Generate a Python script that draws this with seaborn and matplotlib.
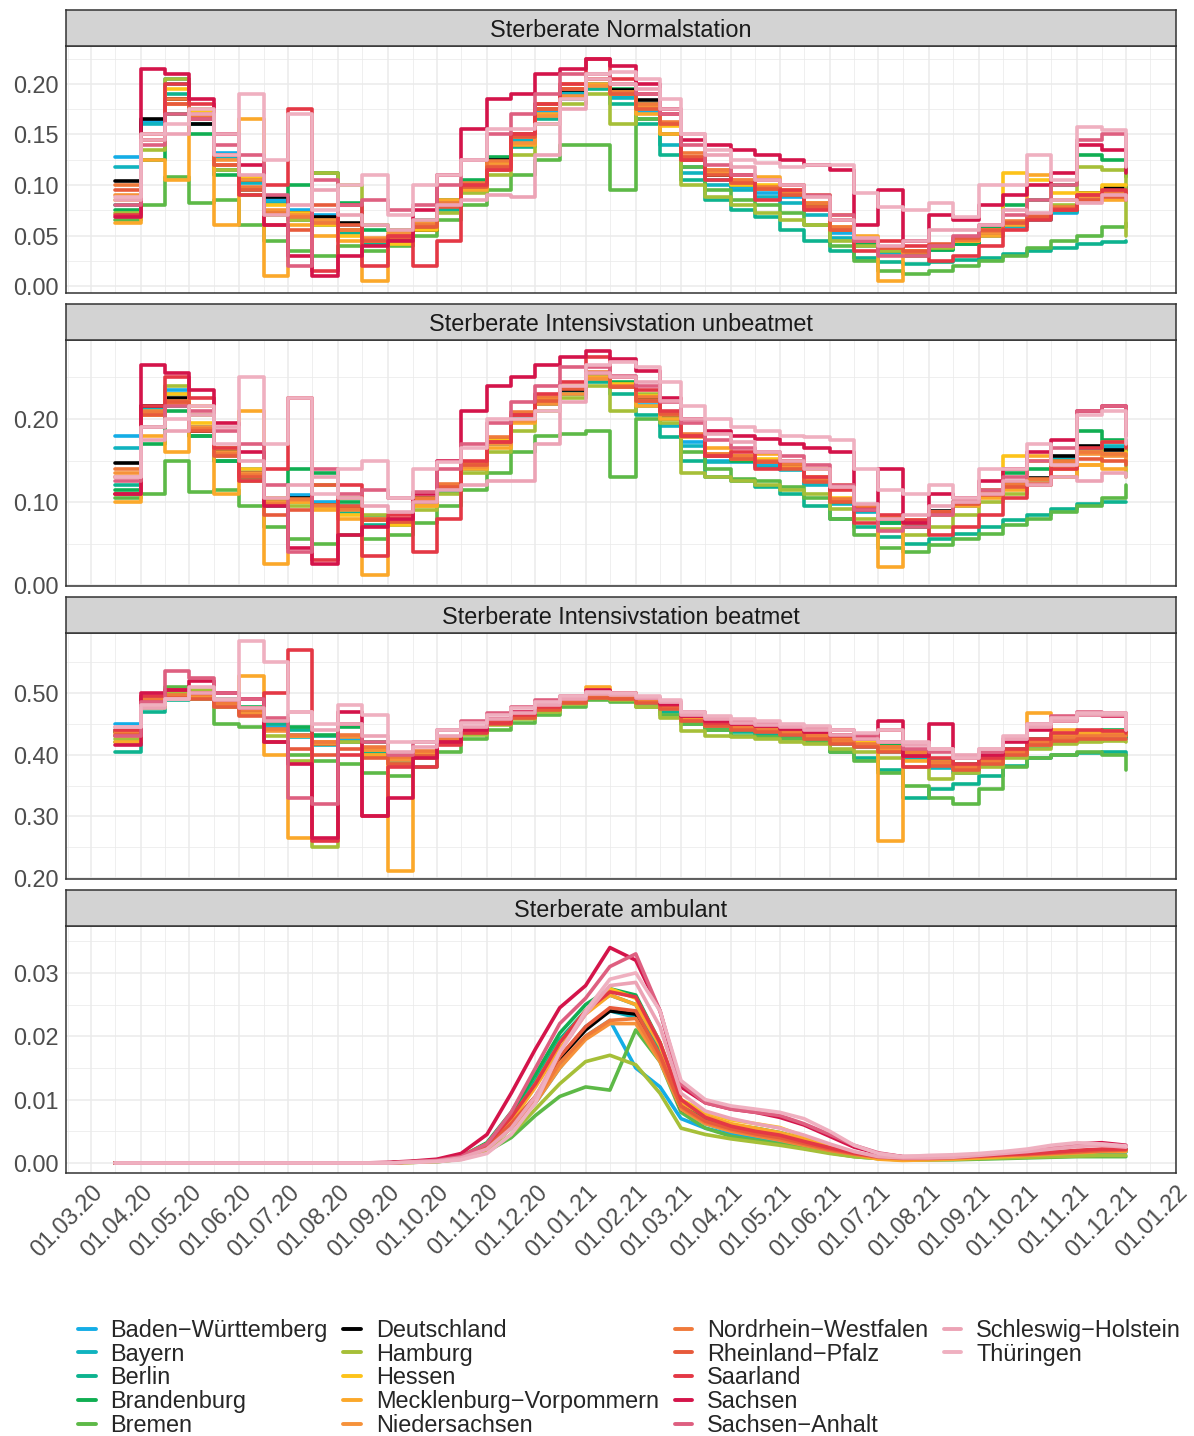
import pandas as pd
import matplotlib
matplotlib.use("Agg")
import matplotlib.pyplot as plt
import matplotlib.dates as mdates
from matplotlib.lines import Line2D
from matplotlib.ticker import MultipleLocator, FormatStrFormatter
import seaborn as sns

# --- data -------------------------------------------------------------------
# sampling dates: 1st and 16th of each month, 16.03.20 .. 01.12.21 (42 points)
months = pd.date_range("2020-03-01", "2021-12-01", freq="MS")
dates = sorted(set(months) | set(months + pd.Timedelta(days=15)))
dates = [d for d in dates if pd.Timestamp("2020-03-16") <= d <= pd.Timestamp("2021-12-01")]

states = ["Baden-Württemberg", "Bayern", "Berlin", "Brandenburg", "Bremen",
          "Deutschland", "Hamburg", "Hessen", "Mecklenburg-Vorpommern",
          "Niedersachsen", "Nordrhein-Westfalen", "Rheinland-Pfalz", "Saarland",
          "Sachsen", "Sachsen-Anhalt", "Schleswig-Holstein", "Thüringen"]
colors = ["#14ADE6", "#10B3BF", "#0DB38F", "#10AE52", "#5DB947",
          "#000000", "#A6BF38", "#FDC31A", "#FBA82A",
          "#F6923A", "#F07A3B", "#E75A3B", "#E43845",
          "#D4144A", "#DE5F80", "#ECA3B5", "#EFB0C0"]

# Sterberate Normalstation, in 1/1000
normal_station = {
    "Baden-Württemberg": [128,162,205,168,132,108,85,75,70,60,45,45,55,78,98,120,145,172,190,200,188,172,150,118,105,98,92,88,76,52,42,35,32,38,42,50,60,66,72,88,92,95],
    "Bayern": [118,160,200,165,128,102,82,70,62,55,44,46,56,78,98,120,145,175,192,200,186,165,140,112,100,95,88,82,70,48,40,33,30,36,42,50,58,65,73,90,95,100],
    "Berlin": [80,150,190,160,115,95,72,65,60,52,42,44,55,75,95,115,138,165,185,195,180,160,130,105,85,75,68,55,45,35,28,24,22,24,26,28,32,35,38,42,44,45],
    "Brandenburg": [75,125,170,150,110,90,70,100,112,82,55,55,65,85,105,128,150,175,195,205,195,180,160,125,110,100,96,90,78,55,42,35,30,36,42,58,80,85,100,130,125,108],
    "Bremen": [65,80,108,82,85,60,45,35,30,40,35,40,50,65,80,95,110,125,140,140,95,165,150,118,95,85,80,72,60,40,25,15,12,15,20,25,30,38,45,50,58,62],
    "Deutschland": [104,165,185,160,130,105,88,72,68,62,47,46,55,80,100,125,150,180,194,205,194,184,160,125,110,103,98,92,80,55,45,37,33,39,45,52,62,68,75,92,97,98],
    "Hamburg": [72,135,205,175,115,90,70,65,112,100,60,55,60,72,92,110,130,160,180,190,160,175,150,100,88,80,72,65,60,45,40,35,30,38,45,55,62,70,80,118,115,50],
    "Hessen": [85,150,195,172,130,108,80,72,60,50,45,42,55,80,100,122,148,180,200,205,192,178,158,128,112,100,100,95,82,58,45,38,35,40,45,55,112,105,92,92,100,100],
    "Mecklenburg-Vorpommern": [62,125,105,170,60,165,10,60,50,45,5,50,60,85,95,115,140,170,195,200,190,170,150,125,115,105,108,100,90,70,50,5,35,40,45,50,60,110,85,90,85,85],
    "Niedersachsen": [90,150,180,170,125,105,75,70,65,55,48,52,62,80,100,120,142,168,188,198,190,178,160,128,112,102,96,92,78,55,45,38,34,40,46,52,62,68,75,88,90,88],
    "Nordrhein-Westfalen": [100,145,185,168,120,98,72,68,62,55,46,50,60,82,102,124,150,175,195,205,192,180,162,132,115,105,98,94,82,58,46,38,34,40,46,54,64,70,78,90,92,92],
    "Rheinland-Pfalz": [95,145,180,165,120,95,60,55,80,60,45,48,58,78,98,118,148,175,195,205,190,175,160,128,110,102,96,90,78,55,45,38,35,42,48,55,62,68,76,85,88,85],
    "Saarland": [70,150,200,180,130,90,100,175,15,80,20,50,20,45,100,115,150,180,200,225,205,190,170,125,105,110,85,95,75,65,35,45,40,25,30,40,55,65,75,90,95,90],
    "Sachsen": [68,215,210,185,150,120,60,30,10,30,40,45,75,110,155,185,190,210,215,225,218,200,175,145,140,135,130,125,120,115,60,95,45,70,65,80,90,100,112,140,135,112],
    "Sachsen-Anhalt": [80,140,170,165,140,130,90,20,105,80,85,75,80,100,125,150,170,190,210,210,200,190,170,140,120,110,105,100,90,70,45,30,30,40,50,60,70,85,100,145,150,120],
    "Schleswig-Holstein": [85,145,150,170,150,110,70,80,95,70,60,55,65,80,85,90,88,130,175,205,200,195,175,150,130,118,105,100,88,65,48,40,45,55,55,60,75,72,85,82,90,85],
    "Thüringen": [88,150,160,175,130,190,125,170,75,100,110,70,100,110,125,155,155,160,185,210,212,205,185,150,135,125,122,118,120,120,92,78,75,82,68,100,100,130,105,157,154,118],
}

# Sterberate Intensivstation unbeatmet, in 1/1000
icu_unventilated = {
    "Baden-Württemberg": [180,215,235,190,165,140,105,108,100,95,82,78,105,118,145,172,200,220,232,250,238,220,200,172,150,150,146,140,122,100,90,77,72,85,96,110,120,126,150,165,165,170],
    "Bayern": [165,212,230,185,162,135,100,104,95,92,78,76,104,118,145,175,205,222,235,252,238,215,192,168,148,148,142,138,120,98,88,75,70,84,95,110,120,128,152,165,168,172],
    "Berlin": [120,190,215,180,150,128,95,100,92,88,72,72,98,112,140,170,200,218,230,245,230,205,178,150,130,125,118,110,95,80,70,58,50,55,62,70,78,85,92,98,100,100],
    "Brandenburg": [115,170,210,180,150,130,98,140,135,100,80,75,100,118,145,175,205,222,238,255,245,228,205,180,155,150,148,142,125,100,90,75,70,85,98,115,135,140,150,185,175,160],
    "Bremen": [105,110,150,112,115,95,70,55,50,60,55,60,75,95,115,135,160,180,182,185,130,200,200,160,140,128,125,118,105,80,60,45,40,48,55,62,72,80,88,95,105,120],
    "Deutschland": [147,215,225,185,160,135,101,105,97,93,80,77,105,119,145,175,205,223,235,255,240,225,205,180,155,155,150,145,127,103,95,81,77,89,100,113,123,129,155,167,163,163],
    "Hamburg": [110,190,240,205,155,125,100,95,120,105,85,78,90,110,135,160,185,210,225,240,210,230,195,135,130,125,120,115,110,92,80,68,60,70,85,100,110,120,130,160,172,130],
    "Hessen": [130,205,230,195,165,140,105,100,92,85,78,72,95,120,145,175,205,225,240,255,242,228,208,180,158,155,152,148,130,105,95,82,78,88,98,115,155,150,140,145,158,160],
    "Mecklenburg-Vorpommern": [100,180,160,215,110,210,25,100,90,80,12,80,95,120,140,165,195,222,238,250,240,215,200,180,165,155,158,150,140,120,95,22,75,85,95,105,115,155,130,145,140,140],
    "Niedersachsen": [135,210,218,190,160,135,100,102,95,90,80,78,102,118,142,170,198,218,230,248,238,222,205,178,155,152,148,142,125,102,92,80,76,88,98,110,120,126,148,158,155,150],
    "Nordrhein-Westfalen": [140,208,222,188,158,132,98,104,96,92,80,78,105,122,148,178,208,226,238,256,240,226,208,182,158,156,150,146,128,104,94,80,76,88,100,112,122,128,150,160,158,155],
    "Rheinland-Pfalz": [130,205,220,185,155,130,85,90,120,95,78,76,100,118,145,172,205,222,236,255,238,222,206,180,155,152,148,140,124,100,92,80,76,88,98,108,118,122,145,152,150,145],
    "Saarland": [110,215,250,225,165,125,140,225,30,120,35,85,40,80,150,172,205,230,245,275,250,235,210,180,155,160,140,150,130,115,75,85,78,60,70,85,105,120,140,165,172,165],
    "Sachsen": [110,265,255,235,195,160,95,45,25,60,70,80,110,150,210,240,250,265,275,282,272,258,225,200,185,180,176,170,165,160,90,140,75,110,105,125,140,160,175,210,215,180],
    "Sachsen-Anhalt": [125,190,215,210,185,170,120,40,140,110,115,105,112,140,170,195,220,240,262,262,252,240,220,195,175,165,160,155,145,120,90,65,70,85,100,115,130,150,165,210,215,185],
    "Schleswig-Holstein": [130,175,185,205,190,150,105,120,130,105,95,88,100,115,120,125,125,170,220,255,250,245,222,200,182,172,160,150,140,118,98,80,85,95,100,110,125,120,130,125,135,130],
    "Thüringen": [130,190,200,215,170,250,170,225,110,140,150,105,140,148,165,200,200,210,240,265,268,262,245,215,200,190,185,180,178,175,140,115,110,120,105,140,140,170,145,205,210,170],
}

# Sterberate Intensivstation beatmet, in 1/1000
icu_ventilated = {
    "Baden-Württemberg": [450,490,500,498,485,472,445,432,420,425,405,390,402,420,438,452,463,476,486,492,490,486,476,455,445,440,436,432,426,420,414,408,402,382,378,385,400,415,425,428,430,430],
    "Bayern": [440,485,495,495,482,470,442,428,415,428,408,390,402,422,438,452,464,476,486,494,492,486,475,455,446,442,438,434,428,418,412,404,395,378,370,382,398,412,420,425,426,428],
    "Berlin": [405,470,488,492,485,475,450,440,430,420,405,395,400,420,438,452,462,474,485,492,490,484,470,450,440,436,432,428,420,405,395,375,330,345,352,365,382,395,400,402,404,400],
    "Brandenburg": [430,480,495,500,490,478,455,445,432,445,420,400,405,425,440,455,466,478,488,496,494,488,478,458,448,444,440,438,432,425,420,415,408,390,385,395,410,425,432,438,440,428],
    "Bremen": [420,475,510,490,450,445,420,400,390,385,370,365,380,405,425,440,452,465,478,488,485,478,465,450,440,430,428,425,420,405,390,370,350,330,320,345,380,395,400,405,400,375],
    "Deutschland": [437,489,495,497,482,470,440,430,418,430,410,395,405,425,440,455,465,478,488,495,494,490,480,460,450,445,440,436,430,422,418,412,405,387,382,390,405,420,428,430,432,432],
    "Hamburg": [425,478,500,505,478,465,430,390,250,420,400,385,395,418,432,448,458,470,482,492,488,478,460,438,430,428,425,420,418,410,405,395,380,360,370,380,395,410,418,420,422,420],
    "Hessen": [430,482,495,495,482,475,440,430,420,430,408,395,402,425,440,455,466,478,490,498,496,490,478,460,450,446,442,438,432,425,420,412,405,388,380,390,405,420,430,432,434,435],
    "Mecklenburg-Vorpommern": [420,480,490,500,485,528,400,265,420,430,400,212,400,420,440,455,465,478,490,510,500,490,478,460,450,446,442,438,432,425,415,260,390,385,378,388,405,468,440,435,438,440],
    "Niedersachsen": [435,488,492,495,480,468,438,430,418,428,408,392,402,422,438,452,462,475,485,494,492,486,475,456,446,442,438,434,428,420,414,408,400,384,378,388,402,416,424,428,430,430],
    "Nordrhein-Westfalen": [438,490,497,498,484,472,442,432,420,432,412,396,406,426,442,457,467,480,490,498,495,490,480,462,452,447,442,438,432,424,418,412,405,388,382,392,406,420,428,430,432,432],
    "Rheinland-Pfalz": [432,485,492,490,478,462,420,410,400,410,395,385,398,420,436,450,460,473,484,492,490,484,474,455,446,440,436,432,425,418,412,405,398,382,375,385,400,415,422,425,426,425],
    "Saarland": [440,495,505,500,488,475,500,570,260,400,300,380,380,415,435,452,465,478,490,502,498,492,480,462,452,450,446,442,436,430,425,440,380,395,385,395,410,425,435,440,438,435],
    "Sachsen": [415,500,505,520,500,490,420,385,265,470,300,330,395,420,440,458,470,482,493,505,500,492,482,462,455,450,446,442,436,432,430,455,398,450,395,400,420,440,455,465,462,440],
    "Sachsen-Anhalt": [430,485,535,525,500,490,460,330,320,450,420,400,420,440,455,468,478,488,495,500,498,492,485,470,460,455,450,446,445,440,432,420,410,405,395,405,425,450,462,470,468,440],
    "Schleswig-Holstein": [445,475,490,500,488,475,455,470,440,450,430,405,412,430,445,458,468,480,490,498,496,492,485,465,458,452,448,445,440,432,425,420,415,410,400,410,425,445,455,465,465,440],
    "Thüringen": [445,480,490,510,490,585,550,470,450,480,465,420,420,440,452,465,475,485,495,502,500,495,488,470,462,458,455,450,446,440,435,440,420,410,395,410,430,450,460,468,468,440],
}

# Sterberate ambulant, in 1/10000
outpatient = {
    "Baden-Württemberg": [0,0,0,0,0,0,0,0,0,0,0,0,2,3,8,22,55,95,150,200,225,150,120,70,55,45,40,33,25,18,12,8,6,6,7,9,10,11,13,15,16,17],
    "Bayern": [0,0,0,0,0,0,0,0,0,0,0,0,2,3,8,25,60,105,165,215,240,230,165,85,62,50,42,35,28,20,14,9,7,7,8,10,12,14,16,18,20,22],
    "Berlin": [0,0,0,0,0,0,0,0,0,0,0,0,2,4,10,30,75,130,195,240,265,250,175,85,65,55,48,42,32,22,14,9,6,6,6,8,10,12,14,16,17,18],
    "Brandenburg": [0,0,0,0,0,0,0,0,0,0,0,0,2,4,10,32,80,140,205,250,275,265,190,95,70,60,55,48,38,26,16,10,8,8,9,11,13,15,17,19,20,21],
    "Bremen": [0,0,0,0,0,0,0,0,0,0,0,0,1,2,6,18,40,75,105,120,115,210,160,80,55,42,36,30,24,16,10,7,5,5,5,6,7,8,9,10,10,10],
    "Deutschland": [0,0,0,0,0,0,0,0,0,0,0,0,2,3,8,25,60,100,165,210,240,235,165,85,65,52,45,38,30,22,15,10,8,8,8,10,12,13,15,18,20,21],
    "Hamburg": [0,0,0,0,0,0,0,0,0,0,0,0,1,2,6,18,45,85,125,160,170,155,110,55,45,38,33,28,22,15,10,7,5,5,6,7,8,9,10,11,12,12],
    "Hessen": [0,0,0,0,0,0,0,0,0,0,0,0,2,4,10,30,70,125,190,240,275,260,190,100,80,68,62,56,42,26,15,8,6,6,7,9,11,13,15,17,19,20],
    "Mecklenburg-Vorpommern": [0,0,0,0,0,0,0,0,0,0,0,0,1,3,8,25,65,120,180,235,265,250,185,95,75,62,55,48,38,24,14,6,4,5,6,8,10,12,14,16,18,18],
    "Niedersachsen": [0,0,0,0,0,0,0,0,0,0,0,0,2,3,8,22,55,95,150,195,220,220,160,85,62,50,43,36,28,20,14,9,7,7,8,10,12,13,15,17,19,20],
    "Nordrhein-Westfalen": [0,0,0,0,0,0,0,0,0,0,0,0,2,3,8,24,58,98,158,200,225,228,165,88,64,52,44,37,29,20,14,9,7,7,8,10,12,13,15,17,19,20],
    "Rheinland-Pfalz": [0,0,0,0,0,0,0,0,0,0,0,0,2,3,9,26,62,105,168,215,245,240,170,90,66,54,46,40,31,22,15,10,8,8,9,11,13,14,16,18,20,21],
    "Saarland": [0,0,0,0,0,0,0,0,0,0,0,0,2,4,10,30,72,125,190,240,270,262,190,100,72,58,50,44,34,24,16,10,8,8,9,11,13,15,17,20,22,22],
    "Sachsen": [0,0,0,0,0,0,0,0,0,0,0,1,3,6,15,45,110,180,245,280,340,320,240,120,95,85,80,72,60,42,25,15,10,10,11,13,16,20,25,30,32,28],
    "Sachsen-Anhalt": [0,0,0,0,0,0,0,0,0,0,0,0,2,4,10,30,80,150,220,260,310,330,240,125,95,85,80,75,62,45,28,16,10,10,11,13,16,20,24,28,30,26],
    "Schleswig-Holstein": [0,0,0,0,0,0,0,0,0,0,0,0,2,3,8,22,55,105,175,235,280,285,215,110,82,70,62,55,44,30,18,10,8,8,9,12,15,18,22,26,28,25],
    "Thüringen": [0,0,0,0,0,0,0,0,0,0,0,0,1,2,5,15,45,95,175,240,290,300,240,130,100,90,85,80,70,50,28,15,10,12,13,15,18,22,28,32,30,27],
}

panels = [
    ("Sterberate Normalstation", normal_station, 1e-3),
    ("Sterberate Intensivstation unbeatmet", icu_unventilated, 1e-3),
    ("Sterberate Intensivstation beatmet", icu_ventilated, 1e-3),
    ("Sterberate ambulant", outpatient, 1e-4),
]

rows = []
for title, data, scale in panels:
    for st in states:
        assert len(data[st]) == len(dates), (title, st, len(data[st]))
        for d, v in zip(dates, data[st]):
            rows.append((title, st, d, v * scale))
df = pd.DataFrame(rows, columns=["panel", "state", "date", "value"])

# --- figure -----------------------------------------------------------------
sns.set_style("white")
plt.rcParams["font.family"] = ["Liberation Sans", "DejaVu Sans"]

W, H = 1194, 1436
FS = 16.9
fig = plt.figure(figsize=(W / 100, H / 100), dpi=100)

# pixel rows of the four plot areas (top, bottom)
boxes = [(46, 293), (340, 586), (633, 879), (926, 1173)]
ylims = [(-0.0069, 0.2376), (-0.001, 0.295), (0.1984, 0.5973), (-0.00158, 0.0374)]
ysteps = [0.05, 0.10, 0.10, 0.01]
palette = dict(zip(states, colors))
xlim = (pd.Timestamp("2020-02-14 18:00"), pd.Timestamp("2022-01-01"))

for i, (title, data, scale) in enumerate(panels):
    top, bot = boxes[i]
    ax = fig.add_axes([66 / W, 1 - bot / H, 1110 / W, (bot - top) / H])
    sub = df[df["panel"] == title]
    sns.lineplot(data=sub, x="date", y="value", hue="state", hue_order=states,
                 palette=palette, estimator=None, errorbar=None, legend=False,
                 linewidth=2.6, drawstyle="steps-post" if i < 3 else "default",
                 ax=ax)
    ax.set_xlim(xlim)
    ax.set_ylim(ylims[i])
    ax.set_xlabel("")
    ax.set_ylabel("")
    ax.set_axisbelow(True)
    ax.xaxis.set_major_locator(mdates.MonthLocator())
    ax.xaxis.set_minor_locator(mdates.MonthLocator(bymonthday=16))
    ax.xaxis.set_major_formatter(mdates.DateFormatter("%d.%m.%y"))
    ax.yaxis.set_major_locator(MultipleLocator(ysteps[i]))
    ax.yaxis.set_minor_locator(MultipleLocator(ysteps[i] / 2))
    ax.yaxis.set_major_formatter(FormatStrFormatter("%.2f"))
    ax.grid(which="major", color="#EBEBEB", linewidth=1.1)
    ax.grid(which="minor", color="#EBEBEB", linewidth=0.55)
    for sp in ax.spines.values():
        sp.set_color("#333333")
        sp.set_linewidth(1.1)
    ax.tick_params(axis="y", which="major", length=3.5, width=1.0, color="#333333",
                   labelsize=FS, labelcolor="#4D4D4D", pad=2)
    ax.tick_params(axis="both", which="minor", length=0)
    if i < 3:
        ax.tick_params(axis="x", which="both", length=0, labelbottom=False)
    else:
        ax.tick_params(axis="x", which="major", length=3.5, width=1.0, color="#333333",
                       labelsize=FS, labelcolor="#4D4D4D", pad=2)
        plt.setp(ax.get_xticklabels(), rotation=45, ha="right", va="top",
                 rotation_mode="anchor")

    # facet strip
    sax = fig.add_axes([66 / W, 1 - top / H, 1110 / W, 36 / H])
    sax.set_facecolor("#D3D3D3")
    sax.set_xticks([])
    sax.set_yticks([])
    for sp in sax.spines.values():
        sp.set_color("#333333")
        sp.set_linewidth(1.1)
    sax.text(0.5, 0.43, title, ha="center", va="center", fontsize=FS,
             color="#1A1A1A", transform=sax.transAxes)

# legend: 4 columns holding 5, 5, 5, 2 entries
handles = [Line2D([], [], color=c, linewidth=2.8) for c in colors]
labels = [s.replace("-", "\u2212") for s in states]
handles += [Line2D([], [], alpha=0)] * 3
labels += [""] * 3
fig.legend(handles, labels, ncol=4, loc="upper left",
           bbox_to_anchor=(78 / W, 1 - 1319 / H), frameon=False, fontsize=FS,
           handlelength=0.75, handletextpad=0.62, columnspacing=0.68,
           labelspacing=0.03, borderpad=0, borderaxespad=0)

fig.savefig("out.png", dpi=100)
